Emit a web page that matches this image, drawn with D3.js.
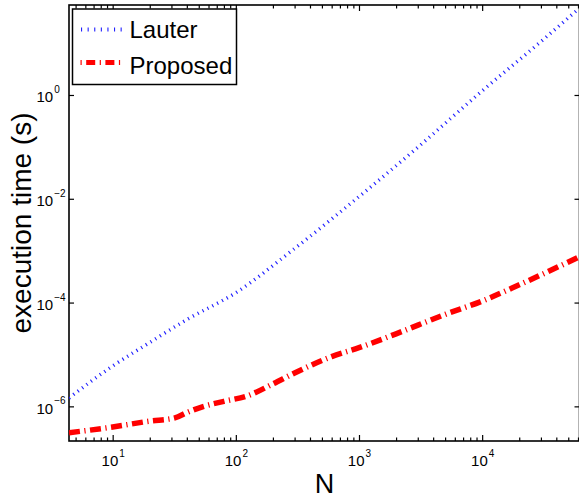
<!DOCTYPE html>
<html><head><meta charset="utf-8">
<script src="https://cdn.jsdelivr.net/npm/d3@7"></script>
<style>
html,body{margin:0;padding:0;background:#fff;}
svg{display:block;font-family:"Liberation Sans",Arial,Helvetica,sans-serif;}
</style></head>
<body><svg id="chart" width="579" height="502"></svg>
<script>
// ---- data ----
const seriesNames = ["Lauter", "Proposed"];
const nLauter = [4.42, 10, 20, 40, 100, 300, 1000, 3000, 10000, 30000, 60000];
const tLauter = [1.45e-6, 6.0e-6, 1.7e-5, 4.7e-5, 1.55e-4, 1.1e-3, 0.011, 0.098, 1.2, 10.7, 44.7];
const nProposed = [4.42, 10, 20, 32, 40, 55, 80, 125, 200, 300, 600, 1000, 2000, 5000, 10000, 20000, 60000];
const tProposed = [3.1e-7, 4.0e-7, 5.2e-7, 6.0e-7, 7.6e-7, 1.0e-6, 1.25e-6, 1.6e-6, 2.7e-6, 4.4e-6, 9.1e-6, 1.35e-5, 2.5e-5, 5.9e-5, 1.07e-4, 2.2e-4, 7.4e-4];
const xTickExps = [1, 2, 3, 4];
const yTickExps = [0, -2, -4, -6];
const xLabel = "N";
const yLabel = "execution time (s)";

// ---- layout ----
const L = 69, R = 578, T = 5, B = 441;
const svg = d3.select("#chart");
const x = d3.scaleLog().domain([4.42, 60000]).range([L, R]);
const y = d3.scaleLog().domain([2.15e-7, 54.2]).range([B, T]);

svg.append("defs").append("clipPath").attr("id", "clip")
  .append("rect").attr("x", L).attr("y", T).attr("width", R - L + 2).attr("height", B - T);

// minor x ticks
const xMinor = [];
for (let d = 0; d <= 4; d++) for (let k = 2; k <= 9; k++) {
  const v = k * Math.pow(10, d);
  if (v >= 4.42 && v <= 60000) xMinor.push(v);
}
const fmt = () => "";
svg.append("g").attr("class", "ax").attr("transform", `translate(0,${B})`)
  .call(d3.axisBottom(x).tickValues(xMinor).tickSize(-3.5).tickFormat(fmt));
svg.append("g").attr("class", "ax").attr("transform", `translate(0,${T})`)
  .call(d3.axisTop(x).tickValues(xMinor).tickSize(-3.5).tickFormat(fmt));

const xMaj = xTickExps.map(e => Math.pow(10, e));
const yMaj = yTickExps.map(e => Math.pow(10, e));
const gxb = svg.append("g").attr("class", "ax").attr("transform", `translate(0,${B})`)
  .call(d3.axisBottom(x).tickValues(xMaj).tickSize(-6).tickPadding(0).tickFormat(fmt));
svg.append("g").attr("class", "ax").attr("transform", `translate(0,${T})`)
  .call(d3.axisTop(x).tickValues(xMaj).tickSize(-6).tickFormat(fmt));
const gyl = svg.append("g").attr("class", "ax").attr("transform", `translate(${L},0)`)
  .call(d3.axisLeft(y).tickValues(yMaj).tickSize(-5).tickFormat(fmt));
svg.append("g").attr("class", "ax").attr("transform", `translate(${R + 1.5},0)`)
  .call(d3.axisRight(y).tickValues(yMaj).tickSize(-5).tickFormat(fmt));

svg.selectAll(".ax path.domain").remove();
svg.selectAll(".ax line").attr("stroke", "#000").attr("stroke-width", 1.2);

// x tick labels
gxb.selectAll(".tick text").each(function(d, i) {
  const t = d3.select(this).text(null)
    .attr("y", 25).attr("dy", null).attr("x", 0)
    .attr("text-anchor", "middle").attr("fill", "#000").attr("font-size", 15);
  t.append("tspan").text("10");
  t.append("tspan").text(xTickExps[i]).attr("font-size", 10).attr("dy", -9.5).attr("dx", 1);
});
// y tick labels
gyl.selectAll(".tick text").each(function(d, i) {
  const e = yTickExps[i];
  const t = d3.select(this).text(null)
    .attr("x", 36.5 - L).attr("dy", null).attr("y", 7)
    .attr("text-anchor", "start").attr("fill", "#000").attr("font-size", 15);
  t.append("tspan").text("10");
  t.append("tspan").text(e < 0 ? "\u2212" + (-e) : String(e)).attr("font-size", 10).attr("dy", -9.5).attr("dx", 1);
});

// frame
svg.append("rect").attr("x", L).attr("y", T).attr("width", R + 1.5 - L).attr("height", B - T)
  .attr("fill", "none").attr("stroke", "#000").attr("stroke-width", 1.6);

// lines
const lineSmooth = d3.line().x(d => x(d[0])).y(d => y(d[1])).curve(d3.curveMonotoneX);
const plot = svg.append("g").attr("clip-path", "url(#clip)");
plot.append("path").datum(nLauter.map((n, i) => [n, tLauter[i]]))
  .attr("d", lineSmooth).attr("fill", "none").attr("stroke", "#2020ff")
  .attr("stroke-width", 3.5).attr("stroke-dasharray", "1.1,4.4");
plot.append("path").datum(nProposed.map((n, i) => [n, tProposed[i]]))
  .attr("d", lineSmooth).attr("fill", "none").attr("stroke", "#ff0000")
  .attr("stroke-width", 5.5).attr("stroke-dasharray", "11,4.5,1.2,4.5");

// legend
const lg = svg.append("g");
lg.append("rect").attr("x", 72.5).attr("y", 9).attr("width", 164).attr("height", 75.5)
  .attr("fill", "#fff").attr("stroke", "#000").attr("stroke-width", 1.5);
lg.append("line").attr("x1", 81).attr("x2", 122).attr("y1", 29.5).attr("y2", 29.5)
  .attr("stroke", "#2020ff").attr("stroke-width", 4).attr("stroke-dasharray", "1.1,5.5");
lg.append("line").attr("x1", 80.5).attr("x2", 122).attr("y1", 62.5).attr("y2", 62.5)
  .attr("stroke", "#ff0000").attr("stroke-width", 5).attr("stroke-dasharray", "9,4.5,1.2,4.5").attr("stroke-dashoffset", 13.5);
lg.append("text").attr("x", 129.5).attr("y", 38).attr("font-size", 24).text(seriesNames[0]);
lg.append("text").attr("x", 129.5).attr("y", 73.5).attr("font-size", 24).text(seriesNames[1]);

// axis labels
svg.append("text").attr("x", (L + R) / 2 + 1).attr("y", 493).attr("text-anchor", "middle")
  .attr("font-size", 27).text(xLabel);
svg.append("text").attr("transform", `translate(31,${(T + B) / 2}) rotate(-90)`)
  .attr("text-anchor", "middle").attr("font-size", 28).text(yLabel);
</script></body></html>
